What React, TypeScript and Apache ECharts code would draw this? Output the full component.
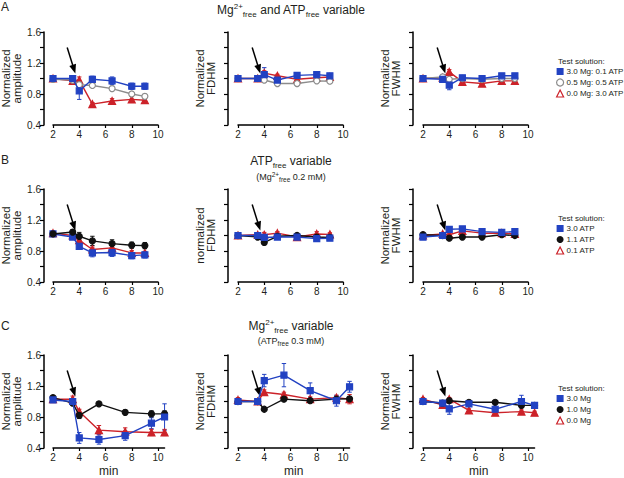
import React, { useEffect, useRef } from 'react';
import * as echarts from 'echarts';

const BLUE = '#2242c2';
const RED = '#cc2229';
const GREY = '#8c8c8c';
const BLACK = '#111111';
const TEXT = '#231f20';
const FONT = '"Liberation Sans", Arial, sans-serif';

// x positions (min)
const xAB = [2, 3.5, 4, 5, 6.5, 8, 9];
const xC = [2, 3.5, 4, 5.5, 7.5, 9.5, 10.5];
const xTickValues = [2, 4, 6, 8, 10];

// ---------- Row A : Mg and ATP variable ----------
const aAmpMg3 = [1.0, 1.0, 0.84, 0.99, 0.97, 0.9, 0.9];
const aAmpMg3Err = [0.02, 0.02, 0.11, 0.04, 0.05, 0.04, 0.04];
const aAmpMg05 = [0.99, 0.98, 0.92, 0.91, 0.87, 0.8, 0.77];
const aAmpMg05Err = [0.02, 0.02, 0.03, 0.02, 0.03, 0.03, 0.03];
const aAmpMg0 = [1.0, 0.97, 0.98, 0.67, 0.71, 0.73, 0.72];
const aAmpMg0Err = [0.02, 0.03, 0.04, 0.02, 0.03, 0.04, 0.03];

const aFdhmMg3 = [1.0, 1.0, 1.05, 0.98, 1.04, 1.05, 1.035];
const aFdhmMg3Err = [0.01, 0.01, 0.09, 0.03, 0.02, 0.03, 0.02];
const aFdhmMg05 = [1.0, 1.0, 0.98, 0.935, 0.935, 0.97, 0.965];
const aFdhmMg05Err = [0.01, 0.01, 0.03, 0.02, 0.02, 0.02, 0.02];
const aFdhmMg0 = [1.0, 1.0, 1.07, 1.035, 0.99, 1.01, 1.02];
const aFdhmMg0Err = [0.01, 0.01, 0.03, 0.02, 0.02, 0.02, 0.02];

const aFwhmMg3 = [1.0, 0.99, 0.915, 1.01, 1.0, 1.035, 1.035];
const aFwhmMg3Err = [0.01, 0.02, 0.06, 0.02, 0.03, 0.02, 0.02];
const aFwhmMg05 = [1.0, 1.02, 0.99, 1.0, 0.99, 1.0, 1.0];
const aFwhmMg05Err = [0.01, 0.02, 0.02, 0.02, 0.02, 0.02, 0.02];
const aFwhmMg0 = [1.0, 1.01, 1.085, 0.957, 0.935, 0.97, 0.97];
const aFwhmMg0Err = [0.01, 0.02, 0.03, 0.02, 0.02, 0.02, 0.02];

// ---------- Row B : ATP variable ----------
const bAmpAtp3 = [1.02, 0.98, 0.86, 0.775, 0.78, 0.74, 0.75];
const bAmpAtp3Err = [0.02, 0.02, 0.03, 0.05, 0.05, 0.04, 0.04];
const bAmpAtp11 = [1.02, 1.045, 0.99, 0.93, 0.895, 0.875, 0.87];
const bAmpAtp11Err = [0.02, 0.03, 0.05, 0.06, 0.05, 0.04, 0.04];
const bAmpAtp01 = [1.03, 1.0, 0.94, 0.82, 0.84, 0.775, 0.775];
const bAmpAtp01Err = [0.03, 0.02, 0.03, 0.03, 0.03, 0.03, 0.02];

const bFdhmAtp3 = [1.0, 1.0, 0.975, 0.98, 0.98, 0.96, 0.965];
const bFdhmAtp3Err = [0.01, 0.01, 0.02, 0.02, 0.02, 0.02, 0.02];
const bFdhmAtp11 = [1.0, 0.98, 0.91, 0.99, 1.0, 0.98, 0.975];
const bFdhmAtp11Err = [0.01, 0.01, 0.03, 0.02, 0.03, 0.02, 0.02];
const bFdhmAtp01 = [1.0, 1.01, 1.01, 1.03, 0.98, 1.02, 1.015];
const bFdhmAtp01Err = [0.01, 0.01, 0.03, 0.02, 0.02, 0.03, 0.02];

const bFwhmAtp3 = [0.98, 1.0, 1.08, 1.085, 1.05, 1.04, 1.05];
const bFwhmAtp3Err = [0.01, 0.01, 0.02, 0.02, 0.02, 0.02, 0.02];
const bFwhmAtp11 = [1.01, 1.0, 0.965, 0.98, 0.98, 1.01, 1.0];
const bFwhmAtp11Err = [0.01, 0.01, 0.02, 0.02, 0.02, 0.02, 0.02];
const bFwhmAtp01 = [1.0, 1.02, 1.01, 1.06, 1.03, 1.03, 1.02];
const bFwhmAtp01Err = [0.01, 0.02, 0.02, 0.02, 0.02, 0.02, 0.02];

// ---------- Row C : Mg variable ----------
const cAmpMg3 = [1.02, 1.0, 0.53, 0.51, 0.56, 0.72, 0.8];
const cAmpMg3Err = [0.02, 0.03, 0.07, 0.06, 0.06, 0.07, 0.17];
const cAmpMg1 = [1.05, 0.98, 0.82, 0.97, 0.86, 0.84, 0.84];
const cAmpMg1Err = [0.02, 0.03, 0.04, 0.03, 0.03, 0.04, 0.04];
const cAmpMg0 = [1.03, 1.03, 0.87, 0.63, 0.61, 0.6, 0.6];
const cAmpMg0Err = [0.02, 0.04, 0.03, 0.06, 0.05, 0.04, 0.04];

const cFdhmMg3 = [1.0, 1.0, 1.27, 1.34, 1.14, 1.01, 1.19];
const cFdhmMg3Err = [0.01, 0.01, 0.08, 0.15, 0.1, 0.07, 0.07];
const cFdhmMg1 = [1.0, 1.0, 0.9, 1.03, 1.01, 1.03, 1.035];
const cFdhmMg1Err = [0.01, 0.01, 0.01, 0.02, 0.01, 0.02, 0.03];
const cFdhmMg0 = [1.02, 1.0, 1.12, 1.09, 1.03, 1.05, 1.03];
const cFdhmMg0Err = [0.03, 0.01, 0.03, 0.03, 0.03, 0.03, 0.06];

const cFwhmMg3 = [1.0, 0.98, 0.905, 0.97, 0.9, 1.0, 0.95];
const cFwhmMg3Err = [0.01, 0.02, 0.07, 0.03, 0.03, 0.08, 0.02];
const cFwhmMg1 = [1.0, 0.98, 1.01, 0.99, 0.99, 0.95, 0.95];
const cFwhmMg1Err = [0.01, 0.01, 0.02, 0.02, 0.02, 0.03, 0.02];
const cFwhmMg0 = [1.03, 0.955, 1.03, 0.885, 0.855, 0.87, 0.855];
const cFwhmMg0Err = [0.02, 0.02, 0.02, 0.02, 0.02, 0.02, 0.02];

// legend names
const legendA = ['3.0 Mg: 0.1 ATP', '0.5 Mg: 0.5 ATP', '0.0 Mg: 3.0 ATP'];
const legendB = ['3.0 ATP', '1.1 ATP', '0.1 ATP'];
const legendC = ['3.0 Mg', '1.0 Mg', '0.0 Mg'];

const yNames = [
  ['Normalized\namplitude', 'Normalized\nFDHM', 'Normalized\nFWHM'],
  ['Normalized\namplitude', 'normalized\nFDHM', 'Normalized\nFWHM'],
  ['Normalized\namplitude', 'Normalized\nFDHM', 'Normalized\nFWHM'],
];

type Sty = { color: string; symbol: string; fill: string };
const blueSq: Sty = { color: BLUE, symbol: 'rect', fill: BLUE };
const greyCirc: Sty = { color: GREY, symbol: 'circle', fill: '#ffffff' };
const redTri: Sty = { color: RED, symbol: 'triangle', fill: RED };
const blackCirc: Sty = { color: BLACK, symbol: 'circle', fill: BLACK };

type P = { name: string; vals: number[]; errs: number[]; sty: Sty };

// panels: row-major, series order is drawing order (last on top)
const panels: { xs: number[]; series: P[] }[] = [
  { xs: xAB, series: [
    { name: legendA[2], vals: aAmpMg0, errs: aAmpMg0Err, sty: redTri },
    { name: legendA[1], vals: aAmpMg05, errs: aAmpMg05Err, sty: greyCirc },
    { name: legendA[0], vals: aAmpMg3, errs: aAmpMg3Err, sty: blueSq },
  ] },
  { xs: xAB, series: [
    { name: legendA[2], vals: aFdhmMg0, errs: aFdhmMg0Err, sty: redTri },
    { name: legendA[1], vals: aFdhmMg05, errs: aFdhmMg05Err, sty: greyCirc },
    { name: legendA[0], vals: aFdhmMg3, errs: aFdhmMg3Err, sty: blueSq },
  ] },
  { xs: xAB, series: [
    { name: legendA[2], vals: aFwhmMg0, errs: aFwhmMg0Err, sty: redTri },
    { name: legendA[1], vals: aFwhmMg05, errs: aFwhmMg05Err, sty: greyCirc },
    { name: legendA[0], vals: aFwhmMg3, errs: aFwhmMg3Err, sty: blueSq },
  ] },
  { xs: xAB, series: [
    { name: legendB[2], vals: bAmpAtp01, errs: bAmpAtp01Err, sty: redTri },
    { name: legendB[0], vals: bAmpAtp3, errs: bAmpAtp3Err, sty: blueSq },
    { name: legendB[1], vals: bAmpAtp11, errs: bAmpAtp11Err, sty: blackCirc },
  ] },
  { xs: xAB, series: [
    { name: legendB[2], vals: bFdhmAtp01, errs: bFdhmAtp01Err, sty: redTri },
    { name: legendB[1], vals: bFdhmAtp11, errs: bFdhmAtp11Err, sty: blackCirc },
    { name: legendB[0], vals: bFdhmAtp3, errs: bFdhmAtp3Err, sty: blueSq },
  ] },
  { xs: xAB, series: [
    { name: legendB[2], vals: bFwhmAtp01, errs: bFwhmAtp01Err, sty: redTri },
    { name: legendB[1], vals: bFwhmAtp11, errs: bFwhmAtp11Err, sty: blackCirc },
    { name: legendB[0], vals: bFwhmAtp3, errs: bFwhmAtp3Err, sty: blueSq },
  ] },
  { xs: xC, series: [
    { name: legendC[2], vals: cAmpMg0, errs: cAmpMg0Err, sty: redTri },
    { name: legendC[1], vals: cAmpMg1, errs: cAmpMg1Err, sty: blackCirc },
    { name: legendC[0], vals: cAmpMg3, errs: cAmpMg3Err, sty: blueSq },
  ] },
  { xs: xC, series: [
    { name: legendC[2], vals: cFdhmMg0, errs: cFdhmMg0Err, sty: redTri },
    { name: legendC[1], vals: cFdhmMg1, errs: cFdhmMg1Err, sty: blackCirc },
    { name: legendC[0], vals: cFdhmMg3, errs: cFdhmMg3Err, sty: blueSq },
  ] },
  { xs: xC, series: [
    { name: legendC[2], vals: cFwhmMg0, errs: cFwhmMg0Err, sty: redTri },
    { name: legendC[1], vals: cFwhmMg1, errs: cFwhmMg1Err, sty: blackCirc },
    { name: legendC[0], vals: cFwhmMg3, errs: cFwhmMg3Err, sty: blueSq },
  ] },
];

const arrowFrom = [3.08, 1.4];
const arrowTo = [3.6, 1.12];

const colLeft = [53, 238, 423];
const rowTop = [32, 189, 355];
const yOffset = [9, 10, 10];
const yNameGap = [22, 12, 12];

function buildOption() {
  const grid: any[] = [];
  const xAxis: any[] = [];
  const yAxis: any[] = [];
  const series: any[] = [];
  panels.forEach((panel, idx) => {
    const row = Math.floor(idx / 3);
    const col = idx % 3;
    const xMax = row === 2 ? 10.5 : 10;
    const unit = 105 / 8;
    grid.push({
      left: colLeft[col], top: rowTop[row], width: (xMax - 2) * unit, height: 93,
      containLabel: false, outerBoundsMode: 'none',
    });
    xAxis.push({
      gridIndex: idx, type: 'value', min: 2, max: xMax, interval: 2,
      axisLine: { show: true, lineStyle: { color: '#000', width: 1.5 } },
      axisTick: { show: true, length: 3, lineStyle: { color: '#000', width: 1.2 }, customValues: xTickValues },
      axisLabel: { fontSize: 10, color: TEXT, fontFamily: FONT, margin: 4, customValues: xTickValues },
      splitLine: { show: false },
      name: row === 2 ? 'min' : '',
      nameLocation: 'middle', nameGap: 17,
      nameTextStyle: { fontSize: 12, color: TEXT, fontFamily: FONT, lineHeight: 12 },
    });
    yAxis.push({
      gridIndex: idx, type: 'value', min: 0.4, max: 1.6, interval: 0.2, offset: yOffset[col],
      axisLine: { show: true, lineStyle: { color: '#000', width: 1.5 } },
      axisTick: { show: true, length: 4, lineStyle: { color: '#000', width: 1.2 } },
      axisLabel: {
        show: col === 0, fontSize: 10, color: TEXT, fontFamily: FONT, margin: 3,
        formatter: (v: number) => (Math.round(v * 10) % 4 === 0 ? v.toFixed(1) : ''),
      },
      splitLine: { show: false },
      name: yNames[row][col], nameLocation: 'middle', nameRotate: 90, nameGap: yNameGap[col],
      nameTextStyle: { fontSize: 11.5, color: TEXT, fontFamily: FONT, lineHeight: 11 },
    });
    panel.series.forEach((s, si) => {
      const color = s.sty.color;
      series.push({
        type: 'custom', xAxisIndex: idx, yAxisIndex: idx, z: 2, silent: true,
        data: panel.xs.map((x, i) => [x, s.vals[i] - s.errs[i], s.vals[i] + s.errs[i]]),
        encode: { x: 0, y: [1, 2] },
        renderItem: (params: any, api: any) => {
          const x = api.value(0);
          const top = api.coord([x, api.value(2)]);
          const bot = api.coord([x, api.value(1)]);
          const w = 2.2;
          const st = { stroke: color, lineWidth: 1 };
          return {
            type: 'group',
            children: [
              { type: 'line', shape: { x1: top[0], y1: top[1], x2: bot[0], y2: bot[1] }, style: st },
              { type: 'line', shape: { x1: top[0] - w, y1: top[1], x2: top[0] + w, y2: top[1] }, style: st },
              { type: 'line', shape: { x1: bot[0] - w, y1: bot[1], x2: bot[0] + w, y2: bot[1] }, style: st },
            ],
          };
        },
      });
      const line: any = {
        type: 'line', name: s.name, xAxisIndex: idx, yAxisIndex: idx, z: 3 + si,
        data: panel.xs.map((x, i) => [x, s.vals[i]]),
        symbol: s.sty.symbol, symbolSize: s.sty.symbol === 'triangle' ? 7 : 6, showSymbol: true,
        lineStyle: { color, width: 1.4 },
        itemStyle: { color: s.sty.fill, borderColor: color, borderWidth: 1.2 },
        emphasis: { disabled: true },
      };
      if (si === 0) {
        line.markLine = {
          silent: true, symbol: ['none', 'triangle'], symbolSize: [7, 9],
          label: { show: false }, emphasis: { disabled: true },
          lineStyle: { color: '#000', width: 1.5, type: 'solid' },
          itemStyle: { color: '#000' },
          data: [[{ coord: arrowFrom }, { coord: arrowTo }]],
        };
      }
      series.push(line);
    });
  });

  const legendItems = (names: string[], stys: Sty[]) =>
    names.map((n, i) => ({
      name: n,
      icon: stys[i].symbol,
      itemStyle: stys[i] === redTri
        ? { color: '#ffffff', borderColor: RED, borderWidth: 1.2 }
        : stys[i] === greyCirc
          ? { color: '#ffffff', borderColor: GREY, borderWidth: 1.2 }
          : { color: stys[i].color, borderWidth: 0 },
    }));
  const legendBase = {
    orient: 'vertical', left: 556, itemWidth: 7, itemHeight: 7, itemGap: 2, padding: 0,
    selectedMode: false,
    textStyle: { fontSize: 8, color: TEXT, fontFamily: FONT, lineHeight: 9, padding: [0, 0, 0, -2] },
  };
  const legend = [
    { ...legendBase, top: 67, data: legendItems(legendA, [blueSq, greyCirc, redTri]) },
    { ...legendBase, top: 224, data: legendItems(legendB, [blueSq, blackCirc, redTri]) },
    { ...legendBase, top: 394, data: legendItems(legendC, [blueSq, blackCirc, redTri]) },
  ];

  const richTitle = {
    n: { fontSize: 12, lineHeight: 16, fontFamily: FONT, fill: TEXT, verticalAlign: 'middle' },
    sup: { fontSize: 8, lineHeight: 12, fontFamily: FONT, fill: TEXT, verticalAlign: 'top' },
    sub: { fontSize: 8, lineHeight: 8, fontFamily: FONT, fill: TEXT, verticalAlign: 'bottom' },
  };
  const richSub = {
    n: { fontSize: 9, lineHeight: 12, fontFamily: FONT, fill: TEXT, verticalAlign: 'middle' },
    sup: { fontSize: 6.5, lineHeight: 9, fontFamily: FONT, fill: TEXT, verticalAlign: 'top' },
    sub: { fontSize: 6.5, lineHeight: 6, fontFamily: FONT, fill: TEXT, verticalAlign: 'bottom' },
  };
  const txt = (x: number, y: number, text: string, size: number, align = 'left') => ({
    type: 'text', x, y, silent: true,
    style: { text, fontSize: size, fontFamily: FONT, fill: TEXT, align, verticalAlign: 'middle' },
  });
  const rich = (x: number, y: number, text: string, r: any) => ({
    type: 'text', x, y, silent: true,
    style: { text, rich: r, align: 'center', verticalAlign: 'middle', fontFamily: FONT, fill: TEXT },
  });

  const graphic = [
    txt(1, 7, 'A', 12),
    txt(1, 160, 'B', 12),
    txt(1, 326, 'C', 12),
    rich(291, 10, '{n|Mg}{sup|2+}{sub|free}{n| and ATP}{sub|free}{n| variable}', richTitle),
    rich(291, 161, '{n|ATP}{sub|free}{n| variable}', richTitle),
    rich(291, 177, '{n|(Mg}{sup|2+}{sub|free}{n| 0.2 mM)}', richSub),
    rich(291, 326, '{n|Mg}{sup|2+}{sub|free}{n| variable}', richTitle),
    rich(291, 341, '{n|(ATP}{sub|free}{n| 0.3 mM)}', richSub),
    txt(558, 61, 'Test solution:', 8),
    txt(558, 218, 'Test solution:', 8),
    txt(558, 388, 'Test solution:', 8),
  ];

  return {
    animation: false,
    backgroundColor: '#ffffff',
    textStyle: { fontFamily: FONT },
    grid, xAxis, yAxis, series, legend, graphic,
  };
}

export default function App() {
  const ref = useRef<HTMLDivElement>(null);
  useEffect(() => {
    if (!ref.current) return;
    const chart = echarts.init(ref.current, undefined, { renderer: 'svg' });
    chart.setOption(buildOption() as any);
    return () => chart.dispose();
  }, []);
  return <div ref={ref} style={{ width: 624, height: 478, position: 'absolute', left: 0, top: 0 }} />;
}
